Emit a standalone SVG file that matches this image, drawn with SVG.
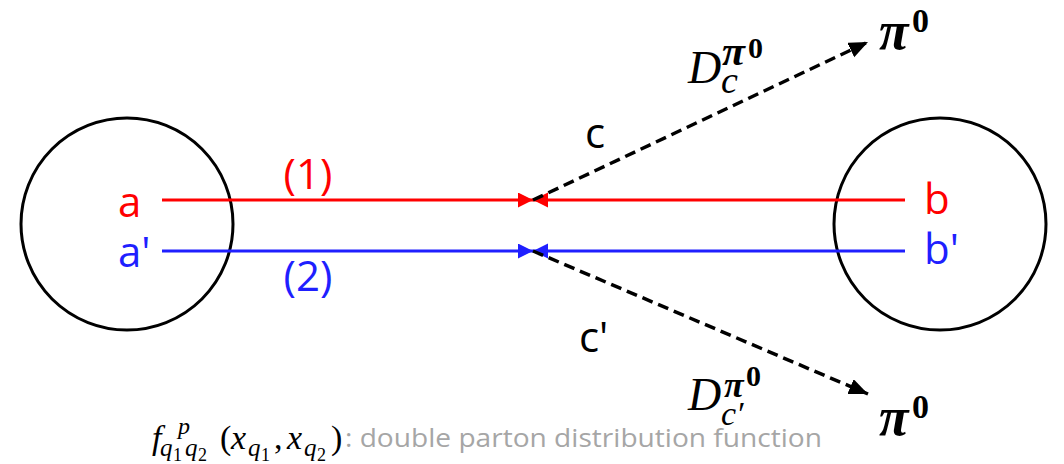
<svg xmlns="http://www.w3.org/2000/svg" width="1064" height="464" viewBox="0 0 1064 464">
<style>
.lbl{font-family:"Open Sans","Liberation Sans",sans-serif;font-size:42px}
.red{fill:#ff0000}
.blue{fill:#1f1fff}
.blk{fill:#000}
.m{font-family:"Liberation Serif","DejaVu Serif",serif;font-style:italic;fill:#000}
.bi{font-weight:bold;font-style:italic}
.b{font-weight:bold;font-style:normal}
.n{font-style:normal}
.gray{font-family:"Open Sans","Liberation Sans",sans-serif;font-size:26px;fill:#a6a6a6}
.circ{fill:none;stroke:#000;stroke-width:3}
.sr{stroke:#ff0000;stroke-width:3;fill:none}
.sb{stroke:#1f1fff;stroke-width:3;fill:none}
.dash{stroke:#000;stroke-width:3.5;stroke-dasharray:11 6;fill:none}
</style>
<defs>
<marker id="ar" markerUnits="userSpaceOnUse" markerWidth="16" markerHeight="16" refX="15" refY="7.5" orient="auto"><path d="M0,0 L15,7.5 L0,15 z" fill="#ff0000"/></marker>
<marker id="ab" markerUnits="userSpaceOnUse" markerWidth="16" markerHeight="16" refX="15" refY="7.5" orient="auto"><path d="M0,0 L15,7.5 L0,15 z" fill="#1f1fff"/></marker>
<marker id="ak" markerUnits="userSpaceOnUse" markerWidth="20" markerHeight="18" refX="19" refY="8" orient="auto"><path d="M0,0 L19,8 L0,16 z" fill="#000"/></marker>
</defs>

<g id="proton-left"><circle class="circ" cx="127" cy="224" r="106"/></g>
<g id="proton-right"><circle class="circ" cx="940" cy="224" r="106"/></g>

<g id="connectors">
<line class="sr" x1="162" y1="200" x2="533" y2="200" marker-end="url(#ar)"/>
<line class="sr" x1="905" y1="200" x2="533" y2="200" marker-end="url(#ar)"/>
<line class="sb" x1="162" y1="251" x2="533" y2="251" marker-end="url(#ab)"/>
<line class="sb" x1="905" y1="251" x2="533" y2="251" marker-end="url(#ab)"/>
<line class="dash" x1="533" y1="200" x2="868" y2="42" marker-end="url(#ak)"/>
<line class="dash" x1="533" y1="251" x2="868" y2="394" marker-end="url(#ak)"/>
</g>

<g id="label-a"><text class="lbl red" x="118" y="217">a</text></g>
<g id="label-a2"><text class="lbl blue" x="118" y="267">a'</text></g>
<g id="label-b"><text class="lbl red" x="924" y="214">b</text></g>
<g id="label-b2"><text class="lbl blue" x="924" y="264">b'</text></g>
<g id="label-1"><text class="lbl red" x="308" y="189" text-anchor="middle">(1)</text></g>
<g id="label-2"><text class="lbl blue" x="308" y="291" text-anchor="middle">(2)</text></g>
<g id="label-c"><text class="lbl blk" x="585" y="148">c</text></g>
<g id="label-c2"><text class="lbl blk" x="579" y="352">c'</text></g>

<g id="frag-top">
<text class="m"><tspan x="688" y="83" font-size="46">D</tspan><tspan x="721" y="93" font-size="38">c</tspan><tspan class="bi" x="722" y="65" font-size="42">π</tspan><tspan class="b" x="748" y="58" font-size="30">0</tspan></text>
</g>
<g id="frag-bottom">
<text class="m"><tspan x="688" y="410" font-size="46">D</tspan><tspan x="721" y="425" font-size="34">c′</tspan><tspan class="bi" x="724" y="397" font-size="36">π</tspan><tspan class="b" x="746" y="386" font-size="30">0</tspan></text>
</g>

<g id="pion-top">
<text class="m"><tspan class="bi" x="879" y="49" font-size="54">π</tspan><tspan class="b" x="912" y="32" font-size="34">0</tspan></text>
</g>
<g id="pion-bottom">
<text class="m"><tspan class="bi" x="879" y="435" font-size="54">π</tspan><tspan class="b" x="912" y="418" font-size="34">0</tspan></text>
</g>

<g id="formula">
<text class="m"><tspan x="152" y="449" font-size="34">f</tspan><tspan x="178" y="434" font-size="24">p</tspan><tspan x="160" y="456" font-size="25">q</tspan><tspan class="n" x="173" y="461" font-size="18">1</tspan><tspan x="185" y="456" font-size="25">q</tspan><tspan class="n" x="198" y="461" font-size="18">2</tspan><tspan class="n" x="220" y="449" font-size="34">(</tspan><tspan x="231" y="449" font-size="34">x</tspan><tspan x="248" y="456" font-size="25">q</tspan><tspan class="n" x="261" y="461" font-size="18">1</tspan><tspan class="n" x="274" y="449" font-size="34">,</tspan><tspan x="287" y="449" font-size="34">x</tspan><tspan x="304" y="456" font-size="25">q</tspan><tspan class="n" x="317" y="461" font-size="18">2</tspan><tspan class="n" x="331" y="449" font-size="34">)</tspan></text>
<text class="gray" x="345" y="447" textLength="477" lengthAdjust="spacingAndGlyphs">: double parton distribution function</text>
</g>
</svg>
